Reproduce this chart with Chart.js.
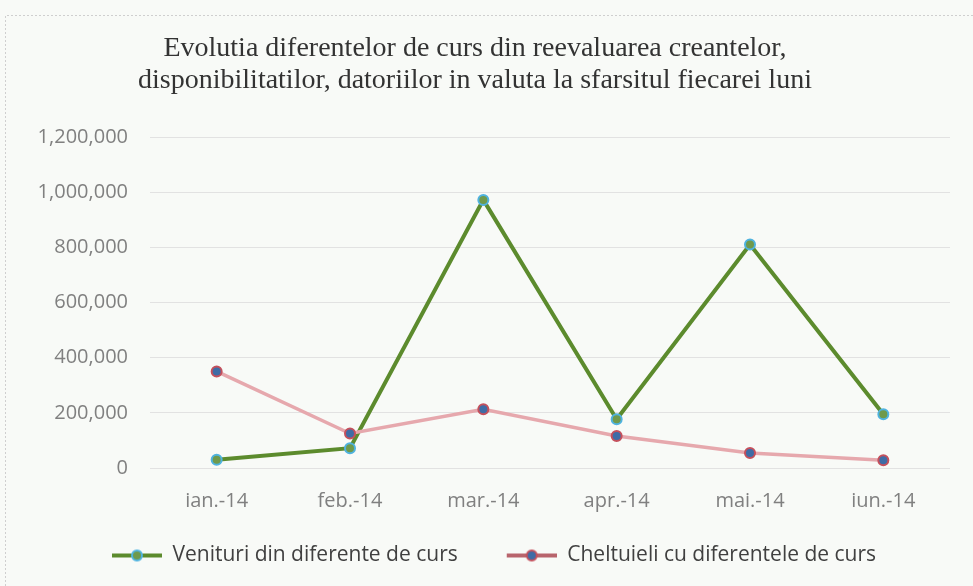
<!DOCTYPE html>
<html>
<head>
<meta charset="utf-8">
<script src="https://cdn.jsdelivr.net/npm/chart.js@4/dist/chart.umd.min.js"></script>
<style>
  html, body { margin: 0; padding: 0; background: #f8faf7; }
  #wrap { width: 973px; height: 586px; position: relative; }
</style>
</head>
<body>
<div id="wrap"><canvas id="c" width="973" height="586"></canvas></div>
<script>
const categories = ['ian.-14', 'feb.-14', 'mar.-14', 'apr.-14', 'mai.-14', 'iun.-14'];
const venituri = [30000, 72000, 972000, 177000, 810000, 195000];
const cheltuieli = [350000, 125000, 213000, 116000, 54000, 28000];
const seriesNames = ['Venituri din diferente de curs', 'Cheltuieli cu diferentele de curs'];
const yTicks = [0, 200000, 400000, 600000, 800000, 1000000, 1200000];
const titleLines = ['Evolutia diferentelor de curs din reevaluarea creantelor,', 'disponibilitatilor, datoriilor in valuta la sfarsitul fiecarei luni'];

const GREEN = '#5c8b2d', GREEN_PT_BORDER = '#4fb3df', GREEN_PT_FILL = '#6f9a4c';
const RED = '#e6a8ad', RED_PT_BORDER = '#c4505c', RED_PT_FILL = '#3f6ca6';

const ICON_MARGIN = 38;
function legendIcon(lineColor, lineW, fill, border) {
  const cv = document.createElement('canvas');
  cv.width = ICON_MARGIN + 50; cv.height = 14;
  const g = cv.getContext('2d');
  const x0 = ICON_MARGIN;
  g.strokeStyle = lineColor; g.lineWidth = lineW;
  g.beginPath(); g.moveTo(x0, 7); g.lineTo(x0 + 50, 7); g.stroke();
  g.beginPath(); g.arc(x0 + 25, 7, 5, 0, Math.PI * 2);
  g.fillStyle = fill; g.fill();
  g.lineWidth = 2; g.strokeStyle = border; g.stroke();
  return cv;
}
const iconGreen = legendIcon(GREEN, 4, GREEN_PT_FILL, GREEN_PT_BORDER);
const iconRed = legendIcon('#b8646c', 4, RED_PT_FILL, RED_PT_BORDER);

const bgPlugin = {
  id: 'bg',
  beforeDraw(chart) {
    const ctx = chart.ctx;
    ctx.save();
    ctx.fillStyle = '#f8faf7';
    ctx.fillRect(0, 0, chart.width, chart.height);
    ctx.strokeStyle = '#cfcfcf';
    ctx.setLineDash([2, 2]);
    ctx.lineWidth = 1;
    ctx.beginPath();
    ctx.moveTo(5.5, chart.height);
    ctx.lineTo(5.5, 15.5);
    ctx.lineTo(chart.width, 15.5);
    ctx.stroke();
    ctx.restore();
  }
};

new Chart(document.getElementById('c'), {
  type: 'line',
  data: {
    labels: categories,
    datasets: [
      {
        label: seriesNames[0],
        data: venituri,
        borderColor: GREEN,
        borderWidth: 4,
        pointRadius: 5,
        pointBorderWidth: 2,
        pointBackgroundColor: GREEN_PT_FILL,
        pointBorderColor: GREEN_PT_BORDER,
        tension: 0,
        order: 1
      },
      {
        label: seriesNames[1],
        data: cheltuieli,
        borderColor: RED,
        borderWidth: 3.5,
        pointRadius: 5,
        pointBorderWidth: 2,
        pointBackgroundColor: RED_PT_FILL,
        pointBorderColor: RED_PT_BORDER,
        tension: 0,
        order: 0
      }
    ]
  },
  options: {
    responsive: false,
    animation: false,
    layout: { padding: { left: 0, right: 23, top: 0, bottom: 10 } },
    plugins: {
      title: {
        display: true,
        text: titleLines,
        font: { family: '"Liberation Serif", serif', size: 28, weight: 'normal', lineHeight: 1.143 },
        color: '#333333',
        padding: { top: 33, bottom: 40 }
      },
      legend: {
        position: 'bottom',
        labels: {
          usePointStyle: true,
          pointStyleWidth: ICON_MARGIN + 50,
          boxHeight: 14,
          padding: 11,
          font: { family: '"Open Sans", sans-serif', size: 21 },
          color: '#404040',
          generateLabels(chart) {
            return [
              { text: seriesNames[0], pointStyle: iconGreen, datasetIndex: 0, fillStyle: GREEN, strokeStyle: GREEN, lineWidth: 0, hidden: false, fontColor: '#404040' },
              { text: seriesNames[1], pointStyle: iconRed, datasetIndex: 1, fillStyle: RED, strokeStyle: RED, lineWidth: 0, hidden: false, fontColor: '#404040' }
            ];
          }
        }
      },
      tooltip: { enabled: false }
    },
    scales: {
      x: {
        offset: true,
        grid: { display: false, drawTicks: false },
        border: { display: false },
        ticks: {
          padding: 23,
          color: '#808080',
          font: { family: '"Open Sans", sans-serif', size: 20, lineHeight: 1 }
        }
      },
      y: {
        min: 0,
        max: 1200000,
        afterFit(scale) { scale.width = 150; },
        afterBuildTicks(scale) { scale.ticks = yTicks.map(v => ({ value: v })); },
        grid: { color: '#e2e2e2', lineWidth: 1, drawTicks: false },
        border: { display: false },
        ticks: {
          padding: 22,
          color: '#808080',
          font: { family: '"Open Sans", sans-serif', size: 20 },
          callback: v => v.toLocaleString('en-US')
        }
      }
    }
  },
  plugins: [bgPlugin]
});
</script>
</body>
</html>
